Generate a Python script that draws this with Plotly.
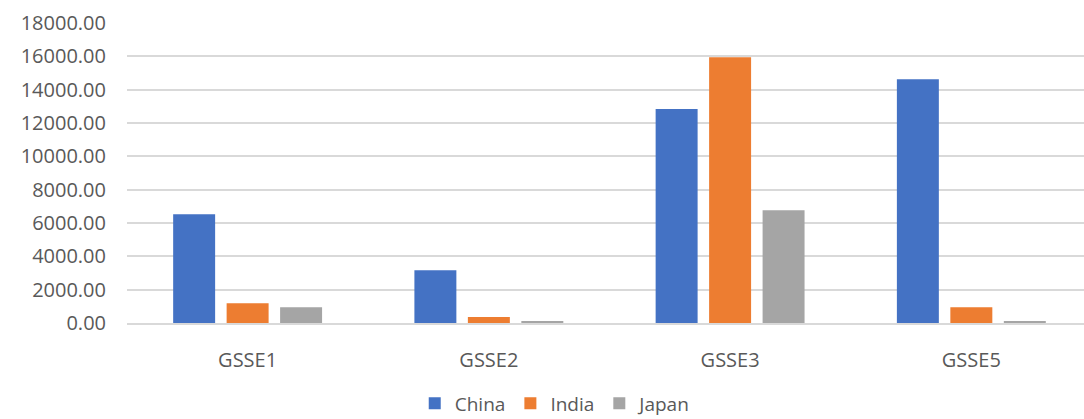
import plotly.graph_objects as go

categories = ["GSSE1", "GSSE2", "GSSE3", "GSSE5"]
china = [6520, 3160, 12840, 14620]
india = [1180, 360, 15940, 940]
japan = [940, 120, 6760, 120]

series = [
    ("China", china, "#4472C4"),
    ("India", india, "#ED7D31"),
    ("Japan", japan, "#A5A5A5"),
]

fig = go.Figure()
for name, vals, color in series:
    fig.add_trace(go.Bar(
        name=name, x=categories, y=vals,
        marker=dict(color=color, line=dict(width=0)),
    ))

font_family = "Open Sans, Noto Sans, sans-serif"
text_color = "#595959"

fig.update_layout(
    width=1084, height=419,
    margin=dict(l=127, r=0, t=23, b=96, autoexpand=False),
    paper_bgcolor="white", plot_bgcolor="white",
    barmode="group", bargap=0.335, bargroupgap=0.215,
    font=dict(family=font_family, size=20, color=text_color),
    showlegend=True,
    legend=dict(
        orientation="h", x=0.448, xanchor="center",
        y=-0.268, yanchor="middle",
        font=dict(size=19, color=text_color),
        itemwidth=30, tracegroupgap=0,
    ),
    xaxis=dict(
        range=[-0.5, 3.467],
        showline=True, linecolor="#D9D9D9", linewidth=1.5,
        showgrid=False, ticks="", ticklabelstandoff=18,
        tickfont=dict(size=20, color=text_color),
    ),
    yaxis=dict(
        range=[0, 18000], dtick=2000, tickformat=".2f",
        showgrid=True, gridcolor="#D9D9D9", gridwidth=1.5,
        zeroline=False, showline=False, ticks="",
        ticklabelstandoff=20,
        tickfont=dict(size=20, color=text_color),
    ),
)

fig.write_html("out.html")
